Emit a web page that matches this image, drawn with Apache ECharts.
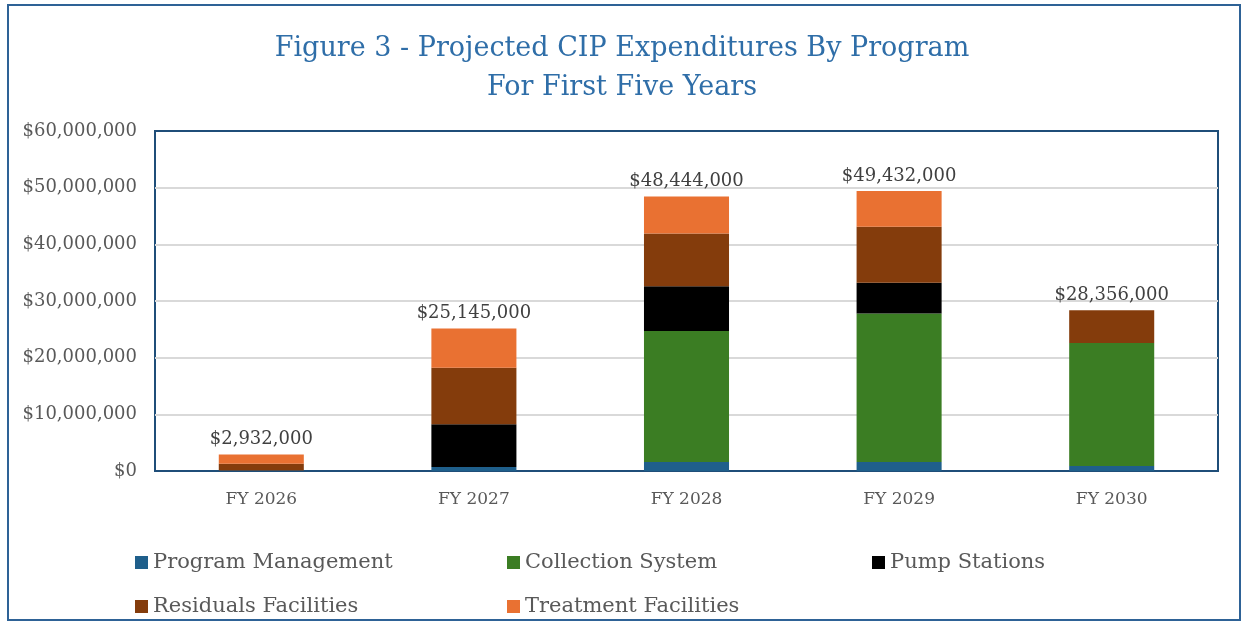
<!DOCTYPE html>
<html><head><meta charset="utf-8">
<script src="https://cdn.jsdelivr.net/npm/echarts@6/dist/echarts.min.js"></script>
<style>html,body{margin:0;padding:0;background:#fff}#c{width:1244px;height:623px}</style>
</head><body><div id="c"></div>
<script>
const categories = ['FY 2026','FY 2027','FY 2028','FY 2029','FY 2030'];
const seriesNames = ['Program Management','Collection System','Pump Stations','Residuals Facilities','Treatment Facilities'];
const programManagement   = [100000,   700000,  1600000,  1600000,  900000];
const collectionSystem    = [0,        0,       23100000, 26200000, 21700000];
const pumpStations        = [0,        7550000, 7900000,  5400000,  0];
const residualsFacilities = [1200000,  9950000, 9300000,  9900000,  5756000];
const treatmentFacilities = [1632000,  6945000, 6544000,  6332000,  0];
const yTicks = [0,10000000,20000000,30000000,40000000,50000000,60000000];

const colors = ['#1F5F8B','#3B7D23','#000000','#843C0C','#E97132'];
const values = [programManagement, collectionSystem, pumpStations, residualsFacilities, treatmentFacilities];
const totals = categories.map((_, i) => values.reduce((s, arr) => s + arr[i], 0));
const money = v => '$' + Math.round(v).toLocaleString('en-US');
const serif = 'DejaVu Serif';

const series = seriesNames.map((n, k) => ({
  name: n, type: 'bar', stack: 'all', barCategoryGap: '60%',
  itemStyle: { color: colors[k] }, data: values[k]
}));
series.push({
  name: 'Total', type: 'bar', stack: 'all', data: categories.map(() => 0),
  itemStyle: { color: 'transparent' },
  label: { show: true, position: 'top', distance: 6, fontFamily: serif, fontSize: 18, color: '#404040',
    formatter: p => money(totals[p.dataIndex]) }
});

const legendPos = [[130,547],[502,547],[867,547],[130,591],[502,591]];
const legends = seriesNames.map((n, k) => ({
  data: [n], left: legendPos[k][0], top: legendPos[k][1], itemWidth: 13, itemHeight: 13, itemGap: 4,
  icon: 'rect', textStyle: { fontFamily: serif, fontSize: 21, color: '#595959' }
}));

const chart = echarts.init(document.getElementById('c'), null, { renderer: 'canvas' });
chart.setOption({
  animation: false,
  title: {
    text: 'Figure 3 - Projected CIP Expenditures By Program\nFor First Five Years',
    left: 'center', top: 24,
    textStyle: { fontFamily: serif, fontSize: 27, fontWeight: 'normal', color: '#2F6EA8', lineHeight: 39 }
  },
  legend: legends,
  graphic: [{ type: 'rect', shape: { x: 8, y: 5, width: 1232, height: 615 },
    style: { fill: 'none', stroke: '#2E6296', lineWidth: 2 }, silent: true }],
  grid: { left: 155, right: 26, top: 131, bottom: 152, show: true, borderColor: '#1F4E79', borderWidth: 2 },
  xAxis: { type: 'category', data: categories,
    axisLine: { show: false }, axisTick: { show: false },
    axisLabel: { fontFamily: serif, fontSize: 17, color: '#595959', margin: 20 } },
  yAxis: { type: 'value', min: yTicks[0], max: yTicks[yTicks.length-1], interval: yTicks[1]-yTicks[0],
    axisLine: { show: false }, axisTick: { show: false },
    splitLine: { showMinLine: false, showMaxLine: false, lineStyle: { color: '#D9D9D9', width: 2 } },
    axisLabel: { fontFamily: serif, fontSize: 18, color: '#595959', margin: 18, formatter: v => money(v) } },
  series: series
});
</script></body></html>
